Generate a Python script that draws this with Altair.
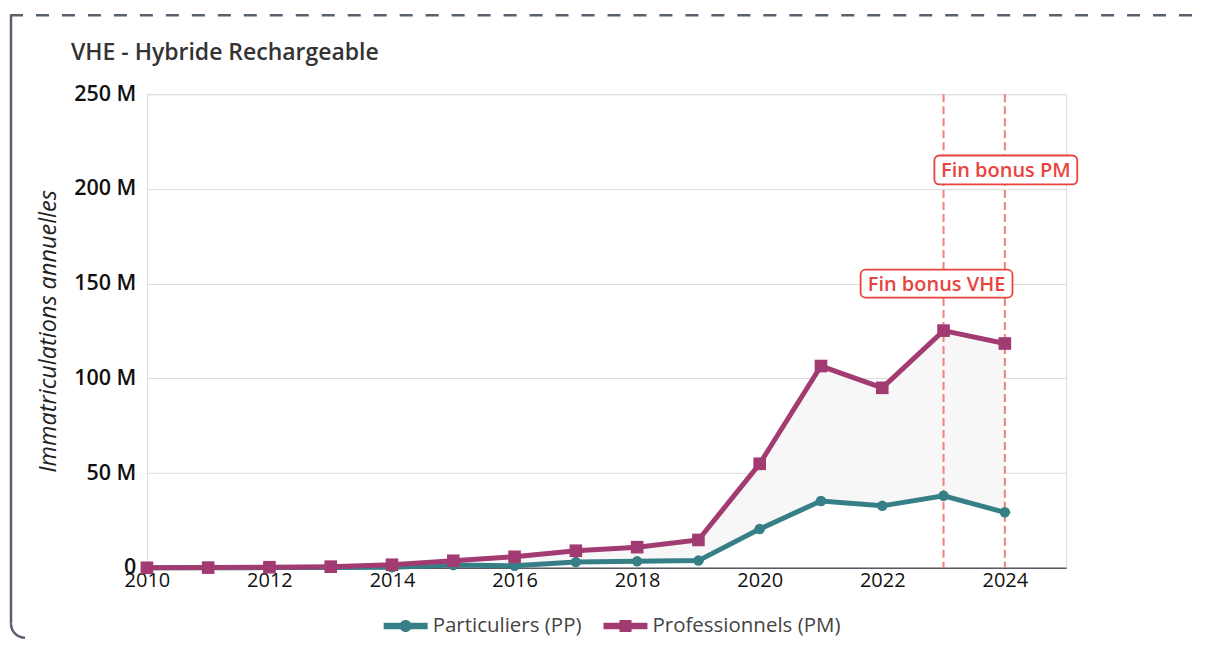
import altair as alt
import pandas as pd

years = list(range(2010, 2025))
pp_values = [0.0, 0.0, 0.1, 0.2, 0.3, 1.5, 1.1, 3.0, 3.4, 3.8, 20.5, 35.3, 32.7, 38.0, 29.3]
pm_values = [0.0, 0.1, 0.3, 0.6, 1.6, 3.7, 5.8, 9.0, 10.9, 14.7, 54.9, 106.5, 95.0, 125.2, 118.4]
series_names = ["Particuliers (PP)", "Professionnels (PM)"]
series_colors = ["#367f87", "#a33b73"]
event_years = [2023, 2024]
event_labels = ["Fin bonus VHE", "Fin bonus PM"]
event_label_values = [150, 210]
title_text = "VHE - Hybride Rechargeable"

FONT = "Open Sans"
RED = "#e8443e"

wide = pd.DataFrame({"year": years, "pp": pp_values, "pm": pm_values})
long = pd.concat([
    pd.DataFrame({"year": years, "value": pp_values, "serie": series_names[0]}),
    pd.DataFrame({"year": years, "value": pm_values, "serie": series_names[1]}),
])
events = pd.DataFrame({"year": event_years, "label": event_labels, "value": event_label_values})
one = pd.DataFrame({"k": [0]})

x_scale = alt.Scale(domain=[2010, 2025], nice=False, zero=False)
y_scale = alt.Scale(domain=[0, 250], nice=False)

# legend symbols: thick line with a marker, drawn beyond [-1,1] so the entry stays compact
circle_leg = "M-2,-0.3L2,-0.3L2,0.3L-2,0.3Z M-0.55,0A0.55,0.55 0 1,1 0.55,0A0.55,0.55 0 1,1 -0.55,0Z"
square_leg = "M-2,-0.3L2,-0.3L2,0.3L-2,0.3Z M-0.55,-0.55L0.55,-0.55L0.55,0.55L-0.55,0.55Z"

x_axis = alt.Axis(values=list(range(2010, 2025, 2)), format="d", title=None, grid=False,
                  ticks=False, domainColor="#5a5a66", domainWidth=1.5, labelFont=FONT,
                  labelFontSize=20, labelColor="#111", labelPadding=3, labelFlush=False,
                  labelOverlap=False)
y_axis = alt.Axis(values=[0, 50, 100, 150, 200, 250],
                  labelExpr="datum.value == 0 ? '0' : datum.value + ' M'",
                  title="Immatriculations annuelles", titleFont=FONT, titleFontStyle="italic",
                  titleFontWeight="normal", titleFontSize=23.5, titleColor="#222",
                  titleX=-98, titleY=237, titleAngle=-90, titleAlign="center", titleBaseline="middle",
                  ticks=False, domain=False, labelFont=FONT, labelFontSize=21.5, labelFontWeight=600,
                  labelColor="#111", labelPadding=11, gridColor="#dcdcdc", gridWidth=1)

area = alt.Chart(wide).mark_area(color="#f7f7f7").encode(
    x=alt.X("year:Q", scale=x_scale, axis=x_axis),
    y=alt.Y("pp:Q", scale=y_scale, axis=y_axis),
    y2="pm:Q",
)

color_enc = alt.Color("serie:N", scale=alt.Scale(domain=series_names, range=series_colors),
                      legend=alt.Legend(title=None, orient="none", direction="horizontal",
                                        legendX=248, legendY=521, padding=0,
                                        labelFont=FONT, labelFontSize=20.5, labelColor="#444",
                                        labelLimit=400,
                                        symbolSize=484, symbolStrokeWidth=0, columnPadding=21,
                                        labelOffset=16))
shape_enc = alt.Shape("serie:N", scale=alt.Scale(domain=series_names, range=[circle_leg, square_leg]),
                      legend=None)

lines = alt.Chart(long).mark_line(strokeWidth=5).encode(
    x=alt.X("year:Q", scale=x_scale),
    y=alt.Y("value:Q", scale=y_scale),
    color=color_enc,
    shape=shape_enc,
)

pts_pp = alt.Chart(long).transform_filter(alt.datum.serie == series_names[0]).mark_point(
    shape="circle", filled=True, size=110, opacity=1, color=series_colors[0]).encode(
    x=alt.X("year:Q", scale=x_scale), y=alt.Y("value:Q", scale=y_scale))
pts_pm = alt.Chart(long).transform_filter(alt.datum.serie == series_names[1]).mark_point(
    shape="square", filled=True, size=160, opacity=1, color=series_colors[1]).encode(
    x=alt.X("year:Q", scale=x_scale), y=alt.Y("value:Q", scale=y_scale))

rules = alt.Chart(events).mark_rule(color="#f08378", strokeDash=[8, 4], strokeWidth=2).encode(
    x=alt.X("year:Q", scale=x_scale))


def label_layers(label, box_w, box_h, shift):
    src = alt.Chart(events).transform_filter(alt.datum.label == label)
    enc = dict(x=alt.X("year:Q", scale=x_scale), y=alt.Y("value:Q", scale=y_scale))
    box = src.mark_rect(width=box_w, height=box_h, fill="white", stroke=RED, strokeWidth=1.8,
                        cornerRadius=5, xOffset=shift).encode(**enc)
    txt = src.mark_text(font=FONT, fontSize=20, fontWeight=600, color=RED, baseline="middle",
                        align="center", dy=1, dx=shift).encode(text="label:N", **enc)
    return [box, txt]


title = alt.Chart(one).mark_text(text=title_text, font=FONT, fontSize=23, fontWeight=600,
                                 color="#333", align="left", baseline="middle").encode(
    x=alt.value(-76), y=alt.value(-41))

FRAME = "#59606e"
frame_left = alt.Chart(one).mark_rule(color=FRAME, strokeWidth=2.5).encode(
    x=alt.value(-136), y=alt.value(-79), y2=alt.value(530))
frame_corner = alt.Chart(one).mark_arc(color=FRAME, theta=3.1416, theta2=4.7124,
                                       radius=15.25, radius2=12.75).encode(
    x=alt.value(-122), y=alt.value(530))
frame_top = alt.Chart(one).mark_rule(color=FRAME, strokeWidth=2.5, strokeDash=[13, 13]).encode(
    x=alt.value(-137), x2=alt.value(1050), y=alt.value(-79))

layers = [frame_left, frame_corner, frame_top, title, area, rules, lines, pts_pp, pts_pm]
layers += label_layers(event_labels[0], 152, 28, -7)
layers += label_layers(event_labels[1], 143, 29, 1)

chart = alt.layer(*layers).properties(
    width=920, height=474,
    padding={"left": 0, "top": 5, "right": 0, "bottom": 0},
).configure_view(stroke=None).configure(background="white")

chart.save("out.html", embed_options={"renderer": "svg", "actions": False})
